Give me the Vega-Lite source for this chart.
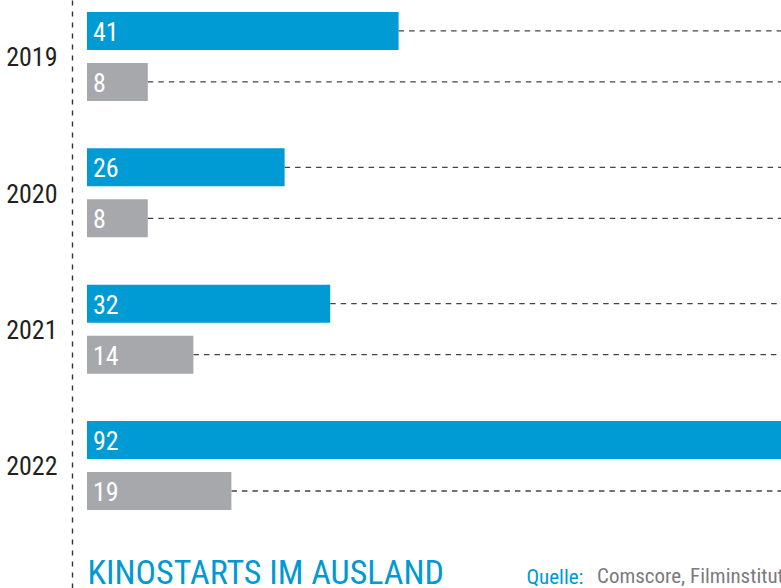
{
  "$schema": "https://vega.github.io/schema/vega-lite/v6.json",
  "width": 800,
  "height": 588,
  "autosize": {"type": "none"},
  "padding": {"left": 87, "top": 0, "right": 0, "bottom": 0},
  "background": "white",
  "config": {"view": {"stroke": null}},
  "title": {
    "text": "Comscore, Filminstitut",
    "orient": "top",
    "anchor": "start",
    "frame": "group",
    "offset": 0,
    "baseline": "alphabetic",
    "dx": 510,
    "dy": 604,
    "font": "Liberation Sans Narrow, Roboto Condensed, DejaVu Sans Condensed, sans-serif",
    "fontSize": 21,
    "fontWeight": "normal",
    "color": "#7a7b7e"
  },
  "data": {
    "values": [
      {"year": "2019", "series": "s1", "value": 41},
      {"year": "2019", "series": "s2", "value": 8},
      {"year": "2020", "series": "s1", "value": 26},
      {"year": "2020", "series": "s2", "value": 8},
      {"year": "2021", "series": "s1", "value": 32},
      {"year": "2021", "series": "s2", "value": 14},
      {"year": "2022", "series": "s1", "value": 92},
      {"year": "2022", "series": "s2", "value": 19}
    ]
  },
  "encoding": {
    "y": {
      "field": "year",
      "type": "nominal",
      "scale": {"paddingInner": 0.3472, "paddingOuter": 0.33, "align": 0.133},
      "axis": {
        "orient": "left",
        "offset": 15,
        "ticks": false,
        "grid": false,
        "domain": true,
        "domainColor": "#333333",
        "domainDash": [5, 6],
        "domainWidth": 1.4,
        "labelPadding": 15,
        "labelOffset": 2,
        "labelFont": "Liberation Sans Narrow, Roboto Condensed, DejaVu Sans Condensed, sans-serif",
        "labelFontSize": 26,
        "labelColor": "#231f20",
        "labelBaseline": "middle",
        "title": "Quelle:",
        "titleAngle": 0,
        "titleX": 454,
        "titleY": 583,
        "titleAlign": "left",
        "titleBaseline": "alphabetic",
        "titleFont": "Liberation Sans Narrow, Roboto Condensed, DejaVu Sans Condensed, sans-serif",
        "titleFontSize": 21,
        "titleFontWeight": "normal",
        "titleColor": "#0099d4"
      }
    },
    "yOffset": {
      "field": "series",
      "type": "nominal",
      "scale": {"paddingInner": 0.255, "paddingOuter": 0}
    }
  },
  "layer": [
    {
      "mark": {"type": "rule", "color": "#444444", "strokeWidth": 1.3, "strokeDash": [5.5, 5]},
      "encoding": {
        "x": {"field": "value", "type": "quantitative", "scale": {"domain": [0, 105.26]}},
        "x2": {"datum": 200}
      }
    },
    {
      "mark": {"type": "bar"},
      "encoding": {
        "x": {
          "field": "value",
          "type": "quantitative",
          "scale": {"domain": [0, 105.26], "nice": false, "zero": true},
          "axis": {
            "orient": "bottom",
            "domain": false,
            "ticks": false,
            "labels": false,
            "grid": false,
            "title": "KINOSTARTS IM AUSLAND",
            "titleX": 0,
            "titleY": -5,
            "titleAlign": "left",
            "titleAnchor": "start",
            "titleBaseline": "alphabetic",
            "titleFont": "Liberation Sans Narrow, Roboto Condensed, DejaVu Sans Condensed, sans-serif",
            "titleFontSize": 34,
            "titleFontWeight": "normal",
            "titleColor": "#0099d4"
          }
        },
        "color": {
          "field": "series",
          "type": "nominal",
          "scale": {"domain": ["s1", "s2"], "range": ["#009bd4", "#a7a8ab"]},
          "legend": null
        }
      }
    },
    {
      "mark": {
        "type": "text",
        "align": "left",
        "baseline": "middle",
        "dx": 6,
        "dy": 2,
        "color": "white",
        "font": "Liberation Sans Narrow, Roboto Condensed, DejaVu Sans Condensed, sans-serif",
        "fontSize": 26
      },
      "encoding": {
        "x": {"datum": 0, "type": "quantitative"},
        "text": {"field": "value", "type": "quantitative"}
      }
    }
  ]
}
